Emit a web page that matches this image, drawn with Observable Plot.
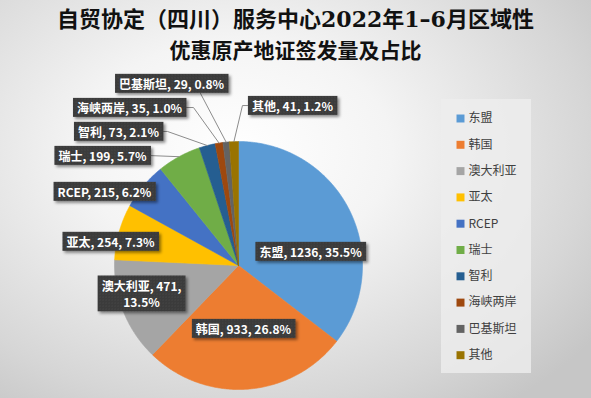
<!DOCTYPE html>
<html><head><meta charset="utf-8">
<script src="https://cdn.jsdelivr.net/npm/d3@7"></script>
<script src="https://cdn.jsdelivr.net/npm/@observablehq/plot@0.6"></script>
<style>
html,body{margin:0;padding:0;}
body{width:591px;height:398px;overflow:hidden;
 background: radial-gradient(ellipse 75% 80% at 40% 38%, #ffffff 0%, #f4f4f4 35%, #d6d6d6 80%, #c6c6c6 100%);
 font-family:"Noto Sans CJK SC","Noto Sans",sans-serif;}
#title{height:62px;box-sizing:border-box;padding-top:2px;text-align:center;font-weight:bold;line-height:30px;color:#111;}
#title .l1{font-size:22px;}
#title .l2{font-size:21px;}
#title .num{font-family:"DejaVu Serif",serif;font-weight:bold;}
#chart svg{display:block;background:transparent;}
</style></head><body>
<div id="title"><div class="l1">自贸协定（四川）服务中心<span class="num">2022</span>年<span class="num">1–6</span>月区域性</div><div class="l2">优惠原产地证签发量及占比</div></div>
<div id="chart"></div>
<script>
// ---- data ----
const categories = ["东盟","韩国","澳大利亚","亚太","RCEP","瑞士","智利","海峡两岸","巴基斯坦","其他"];
const values = [1236,933,471,254,215,199,73,35,29,41];
const percents = ["35.5%","26.8%","13.5%","7.3%","6.2%","5.7%","2.1%","1.0%","0.8%","1.2%"];
const colors = ["#5B9BD5","#ED7D31","#A5A5A5","#FFC000","#4472C4","#70AD47","#255E91","#9E480E","#636363","#997300"];

// ---- layout (pie-radius units, y downward) ----
const labelPos = [[0.581,-0.113],[0.040,0.508],[-0.782,0.226],[-1.032,-0.194],[-1.081,-0.597],
                  [-1.097,-0.887],[-0.968,-1.081],[-0.879,-1.274],[-0.540,-1.468],[0.435,-1.290]];
const leaderPts = {"瑞士":[[-0.726,-0.887]], "智利":[[-0.573,-1.081],[-0.613,-1.081]],
                   "海峡两岸":[[-0.363,-1.274],[-0.427,-1.274]], "巴基斯坦":[[-0.306,-1.387]],
                   "其他":[[0.032,-1.290],[0.073,-1.290]]};

const W = 591, H = 336, CX = 238, CY = 203, R = 124;

const pie = d3.pie().sort(null).value(d => d.value).startAngle(0).endAngle(2*Math.PI);
const rows = categories.map((c,i)=>({name:c, value:values[i], pct:percents[i]}));
const arcs = pie(rows);
const pt = (a, r) => [r*Math.sin(a), -r*Math.cos(a)];

const slicePts = [];
arcs.forEach(a => {
  const n = Math.max(4, Math.ceil((a.endAngle-a.startAngle)/(Math.PI/360)));
  slicePts.push({name:a.data.name, x:0, y:0});
  for (let k=0;k<=n;k++){ const t=a.startAngle+(a.endAngle-a.startAngle)*k/n; const [x,y]=pt(t,1); slicePts.push({name:a.data.name,x,y}); }
  slicePts.push({name:a.data.name, x:0, y:0});
});

const leaders = [];
arcs.forEach(a => {
  const extra = leaderPts[a.data.name]; if (!extra) return;
  const [x,y] = pt((a.startAngle+a.endAngle)/2, 1);
  leaders.push({name:a.data.name,x,y});
  extra.forEach(([ex,ey]) => leaders.push({name:a.data.name,x:ex,y:ey}));
});

const labels = arcs.map((a,i)=>({name:a.data.name, x:labelPos[i][0], y:labelPos[i][1],
  text: a.data.name==="澳大利亚" ? `${a.data.name}, ${a.data.value},\n${a.data.pct}` : `${a.data.name}, ${a.data.value}, ${a.data.pct}`}));

const legendTop = (118-62-CY)/R, legendStep = 26.3/R;
const legend = categories.map((c,i)=>({name:c, y: legendTop + i*legendStep}));

const chart = Plot.plot({
  width: W, height: H, margin: 0,
  x: {domain:[-1,1], range:[CX-R, CX+R], axis:null},
  y: {domain:[-1,1], range:[CY-R, CY+R], axis:null},
  color: {domain: categories, range: colors},
  style: {background:"transparent", fontFamily:"'Noto Sans CJK SC','Noto Sans',sans-serif"},
  marks: [
    Plot.rect([0], {x1:(441-CX)/R, x2:(531-CX)/R, y1:(99-62-CY)/R, y2:(373-62-CY)/R, fill:"#ededed", fillOpacity:0.8}),
    Plot.line(slicePts, {x:"x", y:"y", z:"name", fill:"name", stroke:"name", strokeWidth:0.6, curve:"linear"}),
    Plot.line(leaders, {x:"x", y:"y", z:"name", stroke:"#8c8c8c", strokeWidth:1, curve:"linear"}),
    Plot.text(labels, {x:"x", y:"y", text:"text", fill:"white", fontWeight:"bold", fontSize:12, lineHeight:1.4}),
    Plot.dot(legend, {x:(460-CX)/R, y:"y", symbol:"square", r:4.5, fill:"name", stroke:null}),
    Plot.text(legend, {x:(468-CX)/R, y:"y", text:"name", textAnchor:"start", fill:"#404040", fontSize:12})
  ]
});
document.getElementById("chart").append(chart);

// label boxes behind label texts (first text mark = slice labels)
const ns = "http://www.w3.org/2000/svg";
const defs = document.createElementNS(ns,"defs");
defs.innerHTML = `<pattern id="dots" width="3" height="3" patternUnits="userSpaceOnUse"><rect width="3" height="3" fill="#3a3a3a"/><rect width="1" height="1" fill="#4d4d4d"/></pattern>
<filter id="sh" x="-10%" y="-20%" width="130%" height="160%"><feDropShadow dx="2" dy="2" stdDeviation="1.5" flood-color="#000" flood-opacity="0.45"/></filter>`;
chart.prepend(defs);
const labelGroup = chart.querySelectorAll('g[aria-label="text"]')[0];
labelGroup.querySelectorAll('text').forEach(t => {
  const b = t.getBBox();
  const r = document.createElementNS(ns,"rect");
  r.setAttribute("x", b.x-4); r.setAttribute("y", b.y-1);
  r.setAttribute("width", b.width+8); r.setAttribute("height", b.height+2);
  r.setAttribute("fill","url(#dots)"); r.setAttribute("filter","url(#sh)");
  if (t.getAttribute("transform")) r.setAttribute("transform", t.getAttribute("transform"));
  t.parentNode.insertBefore(r, t);
});
</script></body></html>
